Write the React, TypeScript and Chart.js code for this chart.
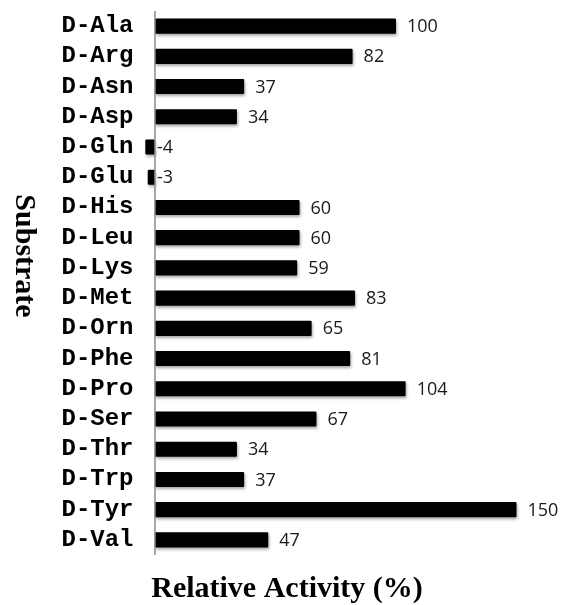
import React, { useEffect, useRef } from "react";
import { Chart, registerables } from "chart.js";

Chart.register(...registerables);

const substrates = [
  "D-Ala", "D-Arg", "D-Asn", "D-Asp", "D-Gln", "D-Glu", "D-His", "D-Leu", "D-Lys",
  "D-Met", "D-Orn", "D-Phe", "D-Pro", "D-Ser", "D-Thr", "D-Trp", "D-Tyr", "D-Val",
];
const activity = [100, 82, 37, 34, -4, -3, 60, 60, 59, 83, 65, 81, 104, 67, 34, 37, 150, 47];
const xTitle = "Relative Activity (%)";
const yTitle = "Substrate";

const W = 569;
const H = 605;

export default function App() {
  const ref = useRef<HTMLCanvasElement | null>(null);

  useEffect(() => {
    const canvas = ref.current;
    if (!canvas) return;

    const shadowPlugin = {
      id: "barShadow",
      beforeDatasetsDraw(chart: any) {
        const ctx = chart.ctx;
        ctx.save();
        ctx.shadowColor = "rgba(0,0,0,0.35)";
        ctx.shadowBlur = 3;
        ctx.shadowOffsetX = 1;
        ctx.shadowOffsetY = 2;
      },
      afterDatasetsDraw(chart: any) {
        chart.ctx.restore();
      },
    };

    const decorPlugin = {
      id: "decor",
      afterDatasetsDraw(chart: any) {
        const ctx = chart.ctx;
        const xs = chart.scales.x;
        const area = chart.chartArea;
        const zero = xs.getPixelForValue(0);
        // zero line
        ctx.save();
        ctx.strokeStyle = "#8a8a8a";
        ctx.lineWidth = 1.5;
        ctx.beginPath();
        ctx.moveTo(zero, area.top);
        ctx.lineTo(zero, area.bottom);
        ctx.stroke();
        // value labels
        const meta = chart.getDatasetMeta(0);
        ctx.fillStyle = "#1a1a1a";
        ctx.font = "18px 'Open Sans'";
        ctx.textAlign = "left";
        ctx.textBaseline = "middle";
        meta.data.forEach((bar: any, i: number) => {
          const v = activity[i];
          const x = v >= 0 ? bar.x + 11 : zero + 2;
          ctx.fillText(String(v), x, bar.y + 1);
        });
        // titles
        ctx.fillStyle = "#000";
        ctx.font = "bold 30px 'Liberation Serif'";
        ctx.textAlign = "center";
        ctx.textBaseline = "alphabetic";
        ctx.fillText(xTitle, 287, 597);
        ctx.save();
        ctx.translate(16, 256);
        ctx.rotate(Math.PI / 2);
        ctx.fillText(yTitle, 0, 0);
        ctx.restore();
        ctx.restore();
      },
    };

    const chart = new Chart(canvas, {
      type: "bar",
      data: {
        labels: substrates,
        datasets: [
          {
            data: activity,
            backgroundColor: "#000",
            borderWidth: 0,
            borderRadius: 1,
            borderSkipped: false,
            barPercentage: 1,
            categoryPercentage: 0.5,
          },
        ],
      },
      options: {
        indexAxis: "y",
        animation: false,
        responsive: false,
        maintainAspectRatio: false,
        layout: { padding: { top: 11, bottom: 50, left: 0, right: 28.4 } },
        plugins: { legend: { display: false }, tooltip: { enabled: false } },
        scales: {
          x: {
            display: false,
            min: -6,
            max: 160,
          },
          y: {
            grid: { display: false, drawTicks: false },
            border: { display: false },
            ticks: {
              autoSkip: false,
              padding: 7,
              color: "#000",
              font: { family: "'Liberation Mono'", size: 24, weight: "bold" },
            },
            afterFit(scale: any) {
              scale.width = 140.5;
              scale.paddingTop = 0;
              scale.paddingBottom = 0;
            },
          },
        },
      },
      plugins: [shadowPlugin, decorPlugin],
    });

    return () => chart.destroy();
  }, []);

  return (
    <div style={{ position: "fixed", left: 0, top: 0, width: W, height: H, background: "#fff" }}>
      <canvas ref={ref} width={W} height={H} style={{ width: W, height: H, display: "block" }} />
    </div>
  );
}
